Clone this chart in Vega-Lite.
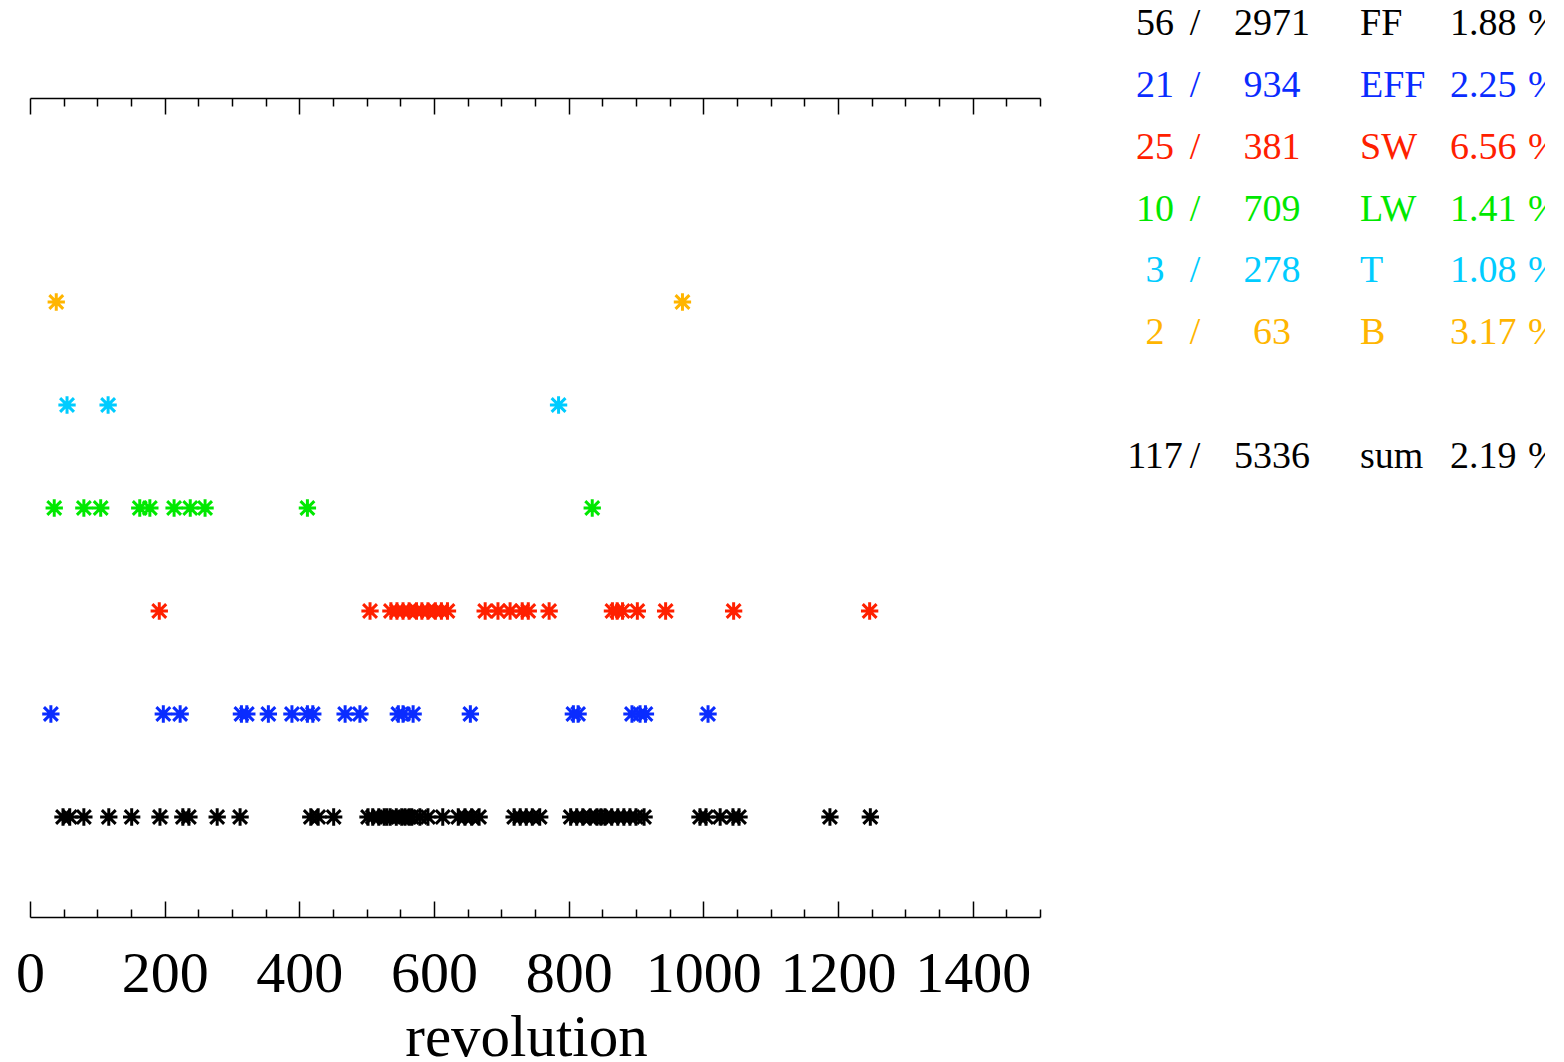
{
  "$schema": "https://vega.github.io/schema/vega-lite/v6.json",
  "autosize": {"type": "none"},
  "padding": {"left": 30, "top": 98, "right": 505, "bottom": 145},
  "width": 1010,
  "height": 819,
  "background": "white",
  "config": {"view": {"stroke": null}, "font": "Liberation Serif"},
  "datasets": {
    "points": [
      {"type": "FF", "revolution": 49}, {"type": "FF", "revolution": 59}, {"type": "FF", "revolution": 80}, {"type": "FF", "revolution": 117},
      {"type": "FF", "revolution": 151}, {"type": "FF", "revolution": 193}, {"type": "FF", "revolution": 227}, {"type": "FF", "revolution": 236},
      {"type": "FF", "revolution": 278}, {"type": "FF", "revolution": 312}, {"type": "FF", "revolution": 417}, {"type": "FF", "revolution": 428},
      {"type": "FF", "revolution": 451}, {"type": "FF", "revolution": 502}, {"type": "FF", "revolution": 509}, {"type": "FF", "revolution": 518},
      {"type": "FF", "revolution": 526}, {"type": "FF", "revolution": 530}, {"type": "FF", "revolution": 535}, {"type": "FF", "revolution": 544},
      {"type": "FF", "revolution": 552}, {"type": "FF", "revolution": 557}, {"type": "FF", "revolution": 563}, {"type": "FF", "revolution": 567},
      {"type": "FF", "revolution": 579}, {"type": "FF", "revolution": 591}, {"type": "FF", "revolution": 613}, {"type": "FF", "revolution": 636},
      {"type": "FF", "revolution": 646}, {"type": "FF", "revolution": 656}, {"type": "FF", "revolution": 667}, {"type": "FF", "revolution": 719},
      {"type": "FF", "revolution": 728}, {"type": "FF", "revolution": 737}, {"type": "FF", "revolution": 746}, {"type": "FF", "revolution": 757},
      {"type": "FF", "revolution": 803}, {"type": "FF", "revolution": 812}, {"type": "FF", "revolution": 821}, {"type": "FF", "revolution": 832},
      {"type": "FF", "revolution": 842}, {"type": "FF", "revolution": 848}, {"type": "FF", "revolution": 854}, {"type": "FF", "revolution": 864},
      {"type": "FF", "revolution": 873}, {"type": "FF", "revolution": 882}, {"type": "FF", "revolution": 891}, {"type": "FF", "revolution": 900},
      {"type": "FF", "revolution": 912}, {"type": "FF", "revolution": 995}, {"type": "FF", "revolution": 1004}, {"type": "FF", "revolution": 1025},
      {"type": "FF", "revolution": 1044}, {"type": "FF", "revolution": 1053}, {"type": "FF", "revolution": 1188}, {"type": "FF", "revolution": 1248},
      {"type": "EFF", "revolution": 31}, {"type": "EFF", "revolution": 198}, {"type": "EFF", "revolution": 223}, {"type": "EFF", "revolution": 314},
      {"type": "EFF", "revolution": 322}, {"type": "EFF", "revolution": 354}, {"type": "EFF", "revolution": 389}, {"type": "EFF", "revolution": 412},
      {"type": "EFF", "revolution": 420}, {"type": "EFF", "revolution": 468}, {"type": "EFF", "revolution": 490}, {"type": "EFF", "revolution": 547},
      {"type": "EFF", "revolution": 554}, {"type": "EFF", "revolution": 569}, {"type": "EFF", "revolution": 654}, {"type": "EFF", "revolution": 807},
      {"type": "EFF", "revolution": 814}, {"type": "EFF", "revolution": 894}, {"type": "EFF", "revolution": 906}, {"type": "EFF", "revolution": 914},
      {"type": "EFF", "revolution": 1007},
      {"type": "SW", "revolution": 192}, {"type": "SW", "revolution": 505}, {"type": "SW", "revolution": 536}, {"type": "SW", "revolution": 545},
      {"type": "SW", "revolution": 554}, {"type": "SW", "revolution": 563}, {"type": "SW", "revolution": 574}, {"type": "SW", "revolution": 582},
      {"type": "SW", "revolution": 591}, {"type": "SW", "revolution": 602}, {"type": "SW", "revolution": 611}, {"type": "SW", "revolution": 620},
      {"type": "SW", "revolution": 676}, {"type": "SW", "revolution": 695}, {"type": "SW", "revolution": 713}, {"type": "SW", "revolution": 731},
      {"type": "SW", "revolution": 740}, {"type": "SW", "revolution": 771}, {"type": "SW", "revolution": 865}, {"type": "SW", "revolution": 872},
      {"type": "SW", "revolution": 880}, {"type": "SW", "revolution": 902}, {"type": "SW", "revolution": 944}, {"type": "SW", "revolution": 1045},
      {"type": "SW", "revolution": 1247},
      {"type": "LW", "revolution": 36}, {"type": "LW", "revolution": 80}, {"type": "LW", "revolution": 105}, {"type": "LW", "revolution": 163},
      {"type": "LW", "revolution": 178}, {"type": "LW", "revolution": 214}, {"type": "LW", "revolution": 238}, {"type": "LW", "revolution": 260},
      {"type": "LW", "revolution": 412}, {"type": "LW", "revolution": 835},
      {"type": "T", "revolution": 55}, {"type": "T", "revolution": 116}, {"type": "T", "revolution": 785},
      {"type": "B", "revolution": 39}, {"type": "B", "revolution": 969}
    ],
    "table": [
      {"type": "FF", "failed": 56, "total": 2971, "pct": 1.88},
      {"type": "EFF", "failed": 21, "total": 934, "pct": 2.25},
      {"type": "SW", "failed": 25, "total": 381, "pct": 6.56},
      {"type": "LW", "failed": 10, "total": 709, "pct": 1.41},
      {"type": "T", "failed": 3, "total": 278, "pct": 1.08},
      {"type": "B", "failed": 2, "total": 63, "pct": 3.17},
      {"type": "sum", "failed": 117, "total": 5336, "pct": 2.19}
    ]
  },
  "layer": [
    {
      "layer": [
        {
          "data": {"name": "points"},
          "transform": [{"filter": {"field": "type", "oneOf": ["FF", "EFF", "SW"]}}],
          "mark": {"type": "point", "shape": "M-1,0H1M0,-1V1M-0.8,-0.8L0.8,0.8M-0.8,0.8L0.8,-0.8", "filled": false, "strokeWidth": 3, "size": 300, "opacity": 1},
          "encoding": {
            "x": {
              "field": "revolution", "type": "quantitative",
              "scale": {"domain": [0, 1500], "nice": false, "zero": false},
              "axis": {
                "orient": "bottom",
                "values": [0, 50, 100, 150, 200, 250, 300, 350, 400, 450, 500, 550, 600, 650, 700, 750, 800, 850, 900, 950, 1000, 1050, 1100, 1150, 1200, 1250, 1300, 1350, 1400, 1450, 1500],
                "format": "d",
                "labelExpr": "datum.value % 200 === 0 ? datum.label : ''",
                "tickSize": {"condition": {"test": "datum.value % 200 === 0", "value": -16}, "value": -8},
                "tickColor": "black", "tickWidth": 1.5,
                "domainColor": "black", "domainWidth": 1.5,
                "grid": false,
                "labelFont": "Liberation Serif", "labelFontSize": 58, "labelColor": "black",
                "labelPadding": 44, "labelFlush": false, "labelOverlap": false,
                "title": "revolution",
                "titleFont": "Liberation Serif", "titleFontSize": 59, "titleFontWeight": "normal", "titleColor": "black",
                "titlePadding": -3, "titleX": 496
              }
            },
            "y": {"field": "type", "type": "nominal", "scale": {"type": "point", "domain": ["B", "T", "LW", "SW", "EFF", "FF"], "range": [204, 719], "padding": 0}, "axis": null},
            "color": {"field": "type", "type": "nominal",
              "scale": {"domain": ["FF", "EFF", "SW", "LW", "T", "B", "sum"], "range": ["#000000", "#0a2cff", "#ff2000", "#00e800", "#00ccff", "#ffb500", "#000000"]},
              "legend": null}
          }
        },
        {
          "data": {"name": "points"},
          "transform": [{"filter": {"field": "type", "oneOf": ["LW", "T", "B"]}}],
          "mark": {"type": "point", "shape": "M-1,0H1M0,-1V1M-0.8,-0.8L0.8,0.8M-0.8,0.8L0.8,-0.8", "filled": false, "strokeWidth": 3, "size": 300, "opacity": 1},
          "encoding": {
            "x": {
              "field": "revolution", "type": "quantitative",
              "axis": {
                "orient": "top",
                "values": [0, 50, 100, 150, 200, 250, 300, 350, 400, 450, 500, 550, 600, 650, 700, 750, 800, 850, 900, 950, 1000, 1050, 1100, 1150, 1200, 1250, 1300, 1350, 1400, 1450, 1500],
                "labels": false,
                "tickSize": {"condition": {"test": "datum.value % 200 === 0", "value": -16}, "value": -8},
                "tickColor": "black", "tickWidth": 1.5,
                "domainColor": "black", "domainWidth": 1.5,
                "grid": false,
                "title": null
              }
            },
            "y": {"field": "type", "type": "nominal", "axis": null},
            "color": {"field": "type", "type": "nominal", "legend": null}
          }
        }
      ],
      "resolve": {"axis": {"x": "independent"}}
    },
    {
      "data": {"name": "table"},
      "encoding": {
        "y": {"field": "type", "type": "nominal", "scale": {"type": "point", "domain": ["FF", "EFF", "SW", "LW", "T", "B", "gap", "sum"], "range": [-63, 370], "padding": 0}, "axis": null},
        "color": {"field": "type", "type": "nominal", "legend": null}
      },
      "layer": [
        {
          "mark": {"type": "text", "font": "Liberation Serif", "fontSize": 38, "align": "center", "baseline": "alphabetic"},
          "encoding": {
            "x": {"datum": "count", "type": "nominal", "scale": {"type": "point", "domain": ["count", "slash", "total", "label", "pct", "pctsign"], "range": [1125, 1498], "padding": 0}, "axis": null},
            "text": {"field": "failed", "type": "quantitative", "format": "d"}
          }
        },
        {
          "mark": {"type": "text", "font": "Liberation Serif", "fontSize": 38, "align": "center", "baseline": "alphabetic", "text": "/", "dx": -34.6},
          "encoding": {"x": {"datum": "slash", "type": "nominal", "axis": null}}
        },
        {
          "mark": {"type": "text", "font": "Liberation Serif", "fontSize": 38, "align": "center", "baseline": "alphabetic", "dx": -32.2},
          "encoding": {
            "x": {"datum": "total", "type": "nominal", "axis": null},
            "text": {"field": "total", "type": "quantitative", "format": "d"}
          }
        },
        {
          "mark": {"type": "text", "font": "Liberation Serif", "fontSize": 38, "align": "left", "baseline": "alphabetic", "dx": -18.8},
          "encoding": {
            "x": {"datum": "label", "type": "nominal", "axis": null},
            "text": {"field": "type", "type": "nominal"}
          }
        },
        {
          "mark": {"type": "text", "font": "Liberation Serif", "fontSize": 38, "align": "left", "baseline": "alphabetic", "dx": -3.4},
          "encoding": {
            "x": {"datum": "pct", "type": "nominal", "axis": null},
            "text": {"field": "pct", "type": "quantitative", "format": ".2f"}
          }
        },
        {
          "mark": {"type": "text", "font": "Liberation Serif", "fontSize": 38, "align": "left", "baseline": "alphabetic", "text": "%"},
          "encoding": {"x": {"datum": "pctsign", "type": "nominal", "axis": null}}
        }
      ]
    }
  ],
  "resolve": {"scale": {"x": "independent", "y": "independent"}}
}
